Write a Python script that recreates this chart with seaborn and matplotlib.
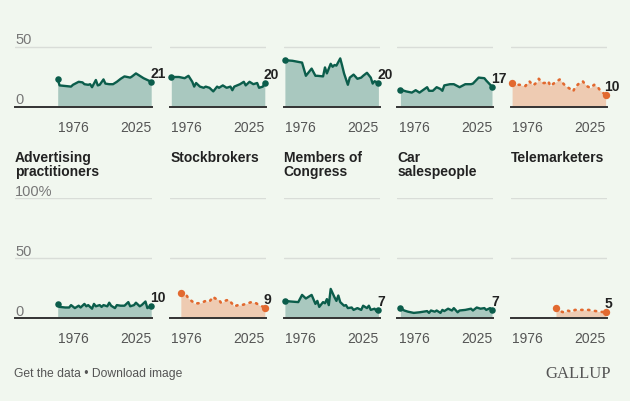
import matplotlib
matplotlib.use("Agg")
import matplotlib.pyplot as plt
import seaborn as sns

# Data (share rating honesty "very high/high", %)
# top row (titles cropped off in the reference)
r1c1_years = [1976, 1977, 1980, 1983, 1984, 1987, 1989, 1990, 1992, 1993, 1994, 1996, 1997, 1998,
              2000, 2001, 2003, 2005, 2007, 2009, 2011, 2014, 2015, 2017, 2019, 2021, 2023, 2025]
r1c1_vals = [23, 18, 17.5, 17, 18.5, 21, 20.5, 19, 18.5, 19, 16.5, 22.5, 18, 18.5,
             23, 19.5, 19, 19, 21, 23.5, 25.5, 24.5, 25.5, 28, 26, 24, 22.5, 21]

r1c2_years = [1976, 1980, 1983, 1985, 1987, 1988, 1989, 1991, 1993, 1994, 1996, 1998, 2000, 2001,
              2003, 2005, 2007, 2008, 2009, 2012, 2014, 2015, 2017, 2019, 2021, 2022, 2024, 2025]
r1c2_vals = [25, 25, 24, 26, 21, 17, 20, 17, 16, 17, 16, 13, 17, 16,
             18, 16, 17, 14, 17, 19, 21, 18, 21, 19, 20, 16, 17, 20]

r1c3_years = [1976, 1980, 1985, 1987, 1990, 1992, 1993, 1996, 1997, 1998, 2000, 2001, 2002, 2003,
              2005, 2006, 2007, 2009, 2010, 2012, 2014, 2016, 2017, 2019, 2021, 2022, 2023, 2025]
r1c3_vals = [39, 38.5, 37, 26, 32, 26, 26, 25.5, 33, 28, 36, 33.5, 35, 34.5,
             40.5, 34.5, 28, 18.5, 24.5, 27, 23.5, 24.5, 26, 28.5, 24.5, 19.5, 21.5, 20]

r1c4_years = [1977, 1980, 1983, 1985, 1987, 1991, 1992, 1994, 1996, 1998, 1999, 2000, 2003, 2005,
              2008, 2011, 2014, 2015, 2018, 2021, 2022, 2025]
r1c4_vals = [14.5, 13, 12, 14, 12, 16.5, 13.5, 13.5, 16.5, 15, 13.5, 18, 19, 19,
             16.5, 19, 19, 19.5, 24.5, 24, 22, 17]

r1c5_years = [1976, 1978, 1980, 1983, 1985, 1987, 1989, 1990, 1992, 1993, 1995, 1996, 1999, 2001,
              2002, 2004, 2006, 2008, 2009, 2011, 2013, 2015, 2017, 2019, 2021, 2022, 2025]
r1c5_vals = [20, 18.5, 18.5, 17.5, 21.5, 18, 20.5, 23.5, 20, 20, 21.5, 17.5, 21, 23,
             21, 17.5, 15.5, 13, 16.5, 19.5, 21.5, 17.5, 16, 18.5, 16.5, 14, 10]

# bottom row
adv_years = [1976, 1977, 1980, 1982, 1983, 1985, 1987, 1988, 1990, 1991, 1992, 1994, 1995, 1996,
             1998, 1999, 2000, 2002, 2003, 2004, 2006, 2007, 2009, 2011, 2013, 2014, 2016, 2017,
             2019, 2020, 2022, 2023, 2024, 2025]
adv_vals = [12, 9.5, 9, 9, 11, 8.5, 10.5, 9, 12, 10, 11, 8, 12, 10,
            11, 9.5, 11, 10, 13, 10.5, 8.5, 11, 10.5, 10.5, 13.5, 10, 11, 13,
            10, 11, 14, 8.5, 9.5, 10]

stock_years = [1981, 1982, 1984, 1985, 1987, 1988, 1990, 1992, 1994, 1996, 1998, 1999, 2001, 2002,
               2004, 2006, 2008, 2009, 2011, 2013, 2015, 2018, 2020, 2022, 2025]
stock_vals = [21, 19.5, 19, 16.5, 14, 12.5, 12.5, 13, 14.5, 14, 18, 16.5, 15.5, 13,
              14.5, 15.5, 12, 10, 11, 11, 12, 13.5, 13, 11, 9]

congress_years = [1976, 1979, 1983, 1985, 1987, 1990, 1992, 1993, 1994, 1996, 1997, 1998, 1999, 2000,
                  2002, 2003, 2004, 2005, 2007, 2008, 2009, 2011, 2012, 2014, 2016, 2017, 2019, 2020,
                  2021, 2023, 2024, 2025]
congress_vals = [14.5, 14, 13.5, 19.5, 16.5, 19.5, 12, 14.5, 9.5, 13.5, 12.5, 16, 11, 24.5,
                 17.5, 14.5, 19, 13.5, 10.5, 11, 8.5, 9, 7, 8.5, 7, 10.5, 8.5, 10.5,
                 7, 8, 6, 7]

car_years = [1977, 1979, 1981, 1984, 1987, 1991, 1992, 1993, 1995, 1996, 1998, 1999, 2000, 2002,
             2004, 2005, 2007, 2008, 2011, 2014, 2015, 2017, 2019, 2021, 2022, 2024, 2025]
car_vals = [8.5, 6.5, 5.5, 4.5, 5, 6, 4.5, 6.5, 5.5, 6.5, 4.5, 7, 6, 8,
            6.5, 8.5, 5, 6.5, 7, 8, 6.5, 9, 8, 8.5, 7, 8.5, 7]

tele_years = [1999, 2001, 2003, 2005, 2007, 2009, 2011, 2013, 2016, 2018, 2020, 2022, 2025]
tele_vals = [8.5, 6, 5, 6.5, 5.5, 7, 7, 7, 7, 6.5, 6, 5.5, 5]

bottom_titles = ["Advertising\npractitioners", "Stockbrokers", "Members of\nCongress",
                 "Car\nsalespeople", "Telemarketers"]

panels = [
    (0, 0, r1c1_years, r1c1_vals, "green"),
    (0, 1, r1c2_years, r1c2_vals, "green"),
    (0, 2, r1c3_years, r1c3_vals, "green"),
    (0, 3, r1c4_years, r1c4_vals, "green"),
    (0, 4, r1c5_years, r1c5_vals, "orange"),
    (1, 0, adv_years, adv_vals, "green"),
    (1, 1, stock_years, stock_vals, "orange"),
    (1, 2, congress_years, congress_vals, "green"),
    (1, 3, car_years, car_vals, "green"),
    (1, 4, tele_years, tele_vals, "orange"),
]

bg = "#F1F7EF"
colors = {"green": ("#0B5D4B", "#A9C8BF"), "orange": ("#E2692F", "#EECBB2")}

sns.set_theme(style="white")
plt.rcParams['font.family'] = ['Liberation Sans', 'DejaVu Sans']

W, H = 630, 402
fig = plt.figure(figsize=(W / 100, H / 100), dpi=100, facecolor=bg)

scale = 93.5 / 49  # px per year
for row, col, yrs, vals, kind in panels:
    x1976 = 57.7 + 113.6 * col
    xmin = 1953.6 if col == 0 else 1975.4
    xmax = 2025.6
    left_px = x1976 - (1976 - xmin) * scale
    width_px = (xmax - xmin) * scale
    y0 = 108 if row == 0 else 319.3
    ax = fig.add_axes([left_px / W, 1 - y0 / H, width_px / W, 120 / H])
    ax.patch.set_alpha(0)
    line_c, fill_c = colors[kind]

    ax.axhline(50, color="#D9DDD8", lw=1.0, zorder=0)
    ax.axhline(100, color="#D9DDD8", lw=1.0, zorder=0)

    ax.fill_between(yrs, vals, 0, color=fill_c, lw=0, zorder=1)
    if kind == "green":
        sns.lineplot(x=yrs, y=vals, ax=ax, color=line_c, lw=1.7, zorder=2)
        ms = 22
    else:
        sns.lineplot(x=yrs, y=vals, ax=ax, color=line_c, lw=1.9, zorder=2,
                     linestyle=(0, (0.5, 2.1)), dash_capstyle="round")
        ms = 28
    ax.scatter([yrs[0], yrs[-1]], [vals[0], vals[-1]], s=ms, color=line_c,
               zorder=3, clip_on=False, lw=0)
    ax.annotate(f"{round(vals[-1])}", xy=(yrs[-1], vals[-1]), xytext=(-0.8, 3.6),
                textcoords="offset points", ha="left", va="baseline",
                fontsize=10, fontweight="bold", color="#222222", annotation_clip=False)

    ax.set_xlim(xmin, xmax)
    ax.set_ylim(0, 100)
    ax.set_yticks([])
    ax.set_xticks([1976, 2025])
    ax.set_xticklabels(["1976", "2025"])
    tl = ax.get_xticklabels()
    tl[0].set_ha("left")
    tl[1].set_ha("right")
    ax.tick_params(axis="x", length=4.5, width=1.1, color="#333333", pad=4.5,
                   labelsize=10, labelcolor="#555555", direction="out")
    ax.set_xlabel("")
    ax.set_ylabel("")
    for s in ["top", "left", "right"]:
        ax.spines[s].set_visible(False)
    ax.spines["bottom"].set_color("#333333")
    ax.spines["bottom"].set_linewidth(1.4)
    ax.spines["bottom"].set_zorder(4)

    if col == 0:
        ylabels = [(50, "50"), (0, "0")] if row == 0 else [(100, "100%"), (50, "50"), (0, "0")]
        for v, txt in ylabels:
            ax.annotate(txt, xy=(0, v), xycoords=("axes fraction", "data"),
                        xytext=(0, 2.6), textcoords="offset points", ha="left",
                        va="baseline", fontsize=10.5, color="#777777",
                        annotation_clip=False)
    if row == 1:
        title = bottom_titles[col]
        # baseline of the last line; lines are 14 px apart
        base_px = 161.7 + 14 * title.count("\n")
        fig.text(left_px / W, 1 - base_px / H, title, ha="left", va="baseline",
                 fontsize=10, fontweight="bold", color="#222222", linespacing=0.93)

fig.text(14 / W, 1 - 374 / H, "Get the data \u2022 Download image", ha="left",
         va="center", fontsize=8.7, color="#555555")
fig.text(611 / W, 1 - 374 / H, "GALLUP", ha="right", va="center", fontsize=12,
         color="#555555", family=["Liberation Serif", "DejaVu Serif"])

fig.savefig("out.png", dpi=100, facecolor=bg)
